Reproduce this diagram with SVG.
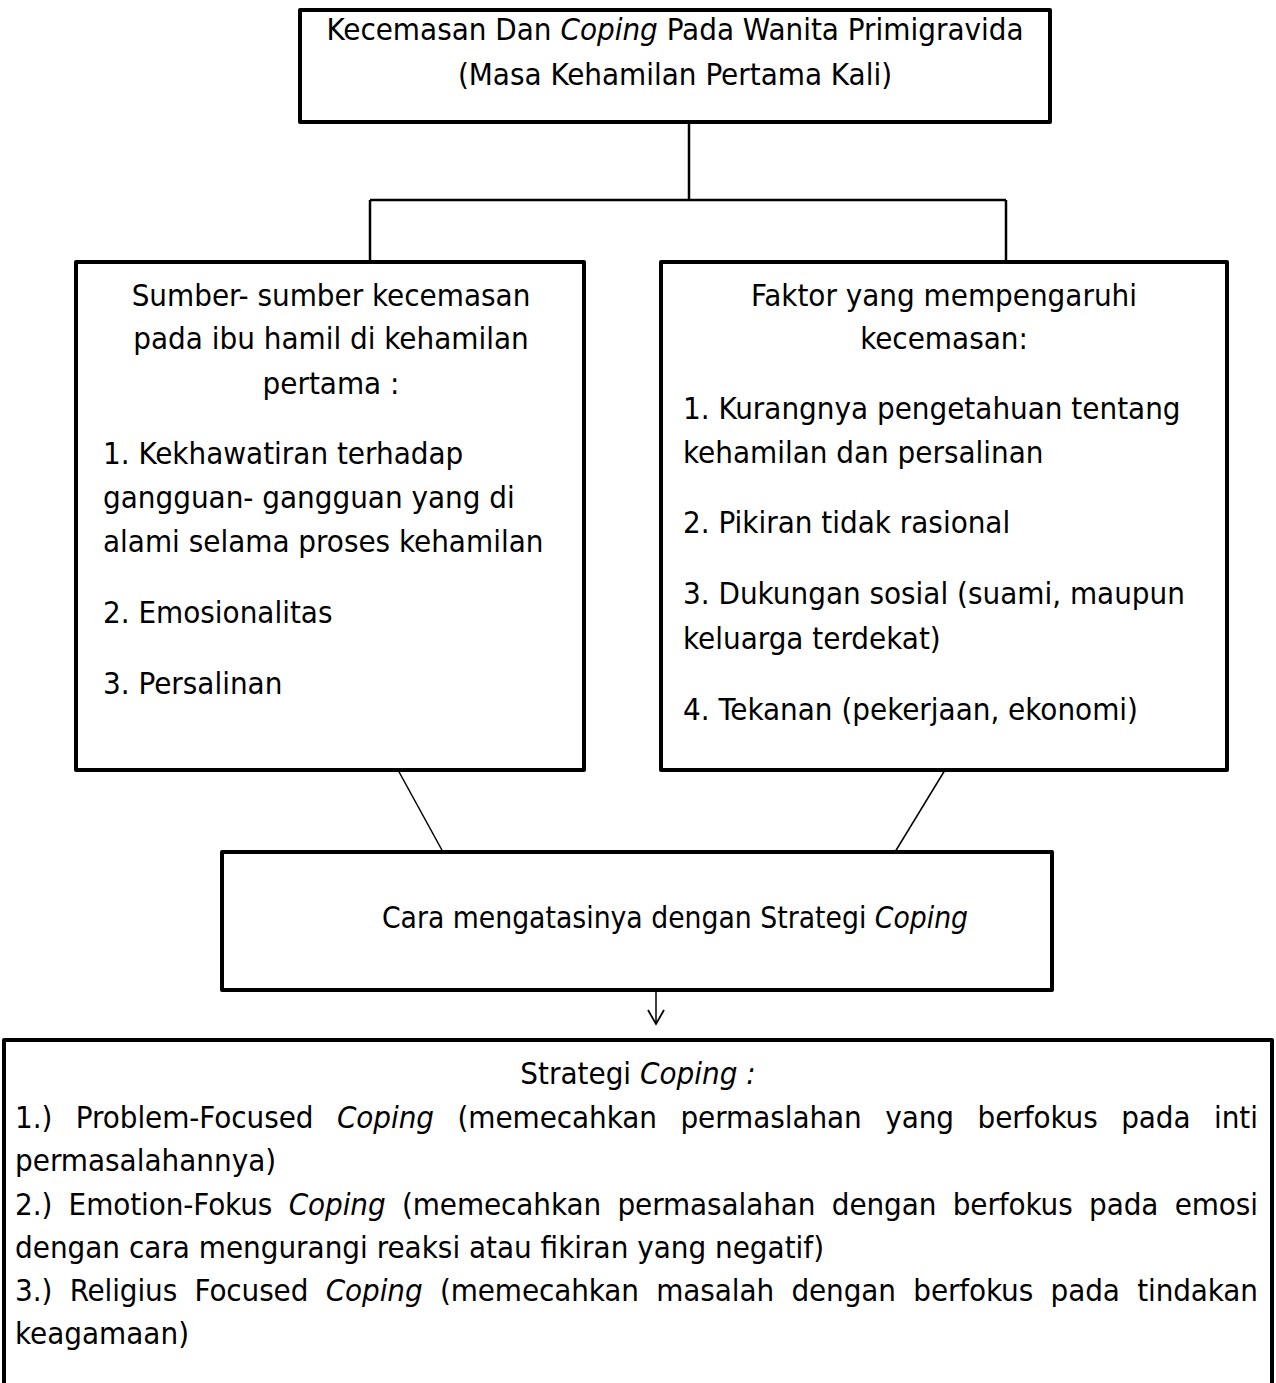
<svg xmlns="http://www.w3.org/2000/svg" width="1276" height="1383" viewBox="0 0 1276 1383">
<style>
.box{fill:#fff;stroke:#000;stroke-width:4;stroke-linejoin:round}
.conn{stroke:#000;stroke-width:2.5;fill:none}
.thin{stroke:#000;stroke-width:1.5;fill:none}
text{font-family:"DejaVu Sans Condensed","DejaVu Sans",sans-serif;font-size:31px;fill:#000}
.c{text-anchor:middle}
.i{font-style:italic}
</style>
<defs>
<marker id="arr" viewBox="0 0 20 20" refX="18" refY="10" markerWidth="20" markerHeight="20" markerUnits="userSpaceOnUse" orient="auto">
<path d="M4,2 L18,10 L4,18" fill="none" stroke="#000" stroke-width="1.8"/>
</marker>
</defs>
<rect width="1276" height="1383" fill="#fff"/>
<g id="connectors">
<line class="conn" x1="689" y1="122" x2="689" y2="200"/>
<line class="conn" x1="370" y1="200" x2="1006" y2="200"/>
<line class="conn" x1="370" y1="200" x2="370" y2="262"/>
<line class="conn" x1="1006" y1="200" x2="1006" y2="262"/>
<line class="thin" x1="398" y1="770" x2="443" y2="852"/>
<line class="thin" x1="945" y1="770" x2="895" y2="852"/>
<line class="thin" x1="656" y1="990" x2="656" y2="1024" marker-end="url(#arr)"/>
</g>
<g id="node-title">
<rect class="box" x="300" y="10" width="750" height="112"/>
<text class="c" x="675" y="40">Kecemasan Dan <tspan class="i">Coping</tspan> Pada Wanita Primigravida</text>
<text class="c" x="675" y="85">(Masa Kehamilan Pertama Kali)</text>
</g>
<g id="node-sumber">
<rect class="box" x="76" y="262" width="508" height="508"/>
<text class="c" x="331" y="306">Sumber- sumber kecemasan</text>
<text class="c" x="331" y="349">pada ibu hamil di kehamilan</text>
<text class="c" x="331" y="394">pertama :</text>
<text x="103" y="464">1. Kekhawatiran terhadap</text>
<text x="103" y="508">gangguan- gangguan yang di</text>
<text x="103" y="552">alami selama proses kehamilan</text>
<text x="103" y="623">2. Emosionalitas</text>
<text x="103" y="694">3. Persalinan</text>
</g>
<g id="node-faktor">
<rect class="box" x="661" y="262" width="566" height="508"/>
<text class="c" x="944" y="306">Faktor yang mempengaruhi</text>
<text class="c" x="944" y="349">kecemasan:</text>
<text x="683" y="419">1. Kurangnya pengetahuan tentang</text>
<text x="683" y="463">kehamilan dan persalinan</text>
<text x="683" y="533">2. Pikiran tidak rasional</text>
<text x="683" y="604">3. Dukungan sosial (suami, maupun</text>
<text x="683" y="649">keluarga terdekat)</text>
<text x="683" y="720">4. Tekanan (pekerjaan, ekonomi)</text>
</g>
<g id="node-cara">
<rect class="box" x="222" y="852" width="830" height="138"/>
<text class="c" x="675" y="928" style="font-size:29.7px">Cara mengatasinya dengan Strategi <tspan class="i">Coping</tspan></text>
</g>
<g id="node-strategi">
<path class="box" d="M4,1390 L4,1040 L1272,1040 L1272,1390"/>
<text class="c" x="638" y="1084">Strategi <tspan class="i">Coping :</tspan></text>
<text x="15" y="1128" style="word-spacing:14.7px" textLength="1243" lengthAdjust="spacing">1.) Problem-Focused <tspan class="i">Coping</tspan> (memecahkan permaslahan yang berfokus pada inti</text>
<text x="15" y="1171">permasalahannya)</text>
<text x="15" y="1215" style="word-spacing:7.6px" textLength="1243" lengthAdjust="spacing">2.) Emotion-Fokus <tspan class="i">Coping</tspan> (memecahkan permasalahan dengan berfokus pada emosi</text>
<text x="15" y="1258">dengan cara mengurangi reaksi atau fikiran yang negatif)</text>
<text x="15" y="1301" style="word-spacing:8.7px" textLength="1243" lengthAdjust="spacing">3.) Religius Focused <tspan class="i">Coping</tspan> (memecahkan masalah dengan berfokus pada tindakan</text>
<text x="15" y="1344">keagamaan)</text>
</g>
</svg>
